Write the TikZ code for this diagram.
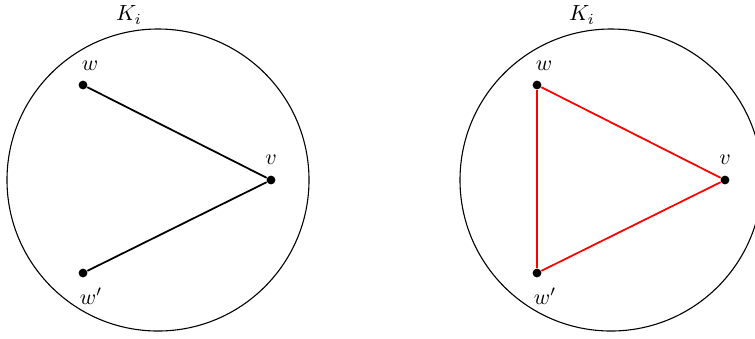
\documentclass[tikz,border=0pt]{standalone}
\begin{document}
\begin{tikzpicture}[x=0.455pt,y=-0.455pt,
  ring/.style={draw=black,line width=0.5pt},
  vert/.style={circle,fill=black,inner sep=0pt,minimum size=4pt},
  edgeb/.style={draw=black,line width=0.8pt},
  edger/.style={draw=red,line width=0.8pt},
  lbl/.style={inner sep=0pt}]
\useasboundingbox (0,0) rectangle (755,338);
% left
\draw[ring] (158,180) circle[radius=151];
\node[lbl] (kl) at (129,15) {$K_i$};
\node[vert] (wl) at (83,85) {};
\node[vert] (vl) at (271,180) {};
\node[vert] (wpl) at (83,273) {};
\node[lbl] (lwl) at (90,66) {$w$};
\node[lbl] (lvl) at (271,160) {$v$};
\node[lbl] (lwpl) at (91,296) {$w'$};
\draw[edgeb] (wl) -- (vl);
\draw[edgeb] (wpl) -- (vl);
% right
\draw[ring] (611,180) circle[radius=151];
\node[lbl] (kr) at (582,15) {$K_i$};
\node[vert] (wr) at (537,85) {};
\node[vert] (vr) at (725,180) {};
\node[vert] (wpr) at (537,273) {};
\node[lbl] (lwr) at (544,66) {$w$};
\node[lbl] (lvr) at (725,160) {$v$};
\node[lbl] (lwpr) at (545,296) {$w'$};
\draw[edger] (wr) -- (vr);
\draw[edger] (wpr) -- (vr);
\draw[edger] (wr) -- (wpr);
\end{tikzpicture}
\end{document}
